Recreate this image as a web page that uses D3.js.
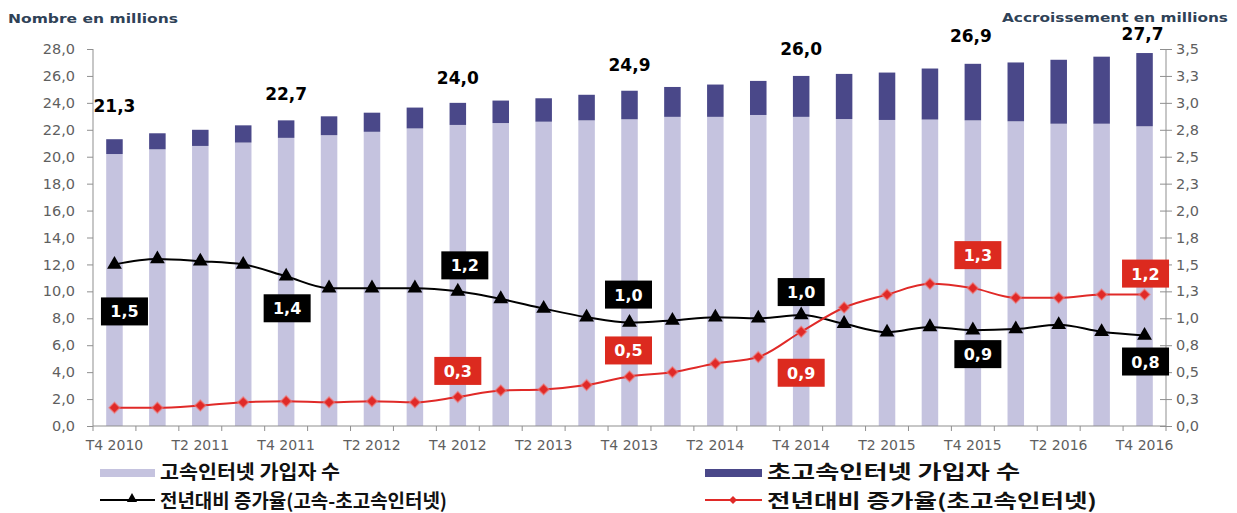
<!DOCTYPE html>
<html>
<head>
<meta charset="utf-8">
<script src="https://cdn.jsdelivr.net/npm/d3@7"></script>
<style>
  body { margin: 0; background: #fff; }
  text { font-family: "DejaVu Sans", Verdana, sans-serif; }
  .kr { font-family: "Noto Sans CJK KR", sans-serif; font-weight: 700; fill: #111; }
</style>
</head>
<body>
<div id="chart"></div>
<script>
// quarters T4 2010 .. T4 2016
const quarters = ["T4 2010","T1 2011","T2 2011","T3 2011","T4 2011","T1 2012","T2 2012","T3 2012",
  "T4 2012","T1 2013","T2 2013","T3 2013","T4 2013","T1 2014","T2 2014","T3 2014","T4 2014",
  "T1 2015","T2 2015","T3 2015","T4 2015","T1 2016","T2 2016","T3 2016","T4 2016"];

// subscribers, millions (left axis)
const highSpeed = [20.2,20.55,20.8,21.05,21.4,21.6,21.85,22.1,22.36,22.5,22.6,22.7,22.78,
  22.96,22.96,23.1,22.96,22.8,22.73,22.76,22.7,22.63,22.45,22.45,22.26];
const ultraHighSpeed = [1.1,1.19,1.2,1.28,1.3,1.4,1.42,1.55,1.64,1.67,1.74,1.9,2.12,
  2.22,2.4,2.53,3.04,3.35,3.52,3.79,4.2,4.37,4.75,4.98,5.44];

// year-on-year growth, millions (right axis)
const growthAll = [1.5,1.55,1.53,1.5,1.39,1.28,1.28,1.28,1.25,1.18,1.09,1.01,0.96,
  0.98,1.01,1.0,1.03,0.95,0.87,0.92,0.89,0.9,0.94,0.875,0.84];
const growthUltra = [0.17,0.17,0.19,0.22,0.23,0.22,0.23,0.22,0.27,0.33,0.34,0.38,0.46,
  0.5,0.58,0.64,0.875,1.1,1.22,1.32,1.28,1.19,1.19,1.22,1.22];

// labelled quarters
const totalLabels = ["T4 2010","T4 2011","T4 2012","T4 2013","T4 2014","T4 2015","T4 2016"];
const totalValues = [21.3,22.7,24.0,24.9,26.0,26.9,27.7];
const blackLabelValues = [1.5,1.4,1.2,1.0,1.0,0.9,0.8];
const blackLabelQuarters = ["T4 2010","T4 2011","T4 2012","T4 2013","T4 2014","T4 2015","T4 2016"];
const redLabelValues = [0.3,0.5,0.9,1.3,1.2];
const redLabelQuarters = ["T4 2012","T4 2013","T4 2014","T4 2015","T4 2016"];

const leftTicks = d3.range(0, 28.1, 2);
const rightTicks = d3.range(0, 3.51, 0.25);
const xTickLabels = quarters.filter((q, i) => i % 2 === 0);

const legendNames = ["고속인터넷 가입자 수", "초고속인터넷 가입자 수",
  "전년대비 증가율(고속-초고속인터넷)", "전년대비 증가율(초고속인터넷)"];

const W = 1237, H = 513;
const colLight = "#c5c3df", colDark = "#4a4889", colRed = "#e02a28", colAxis = "#8f8f8f", colTick = "#5f5f5f";

const svg = d3.select("#chart").append("svg").attr("width", W).attr("height", H);

const x = d3.scaleBand().domain(quarters).range([93, 1166]).paddingInner(0.615).paddingOuter(0.3075);
const yL = d3.scaleLinear().domain([0, 28]).range([426, 49]);
const yR = d3.scaleLinear().domain([0, 3.5]).range([426, 49]);
const fmt = v => (Math.round(v * 10) / 10).toFixed(1).replace(".", ",");

// titles
svg.append("text").attr("x", 8).attr("y", 23).attr("font-size", 13).attr("font-weight", "bold")
  .attr("fill", "#2f4257").attr("textLength", 170).attr("lengthAdjust", "spacingAndGlyphs")
  .text("Nombre en millions");
svg.append("text").attr("x", 1228).attr("y", 22).attr("font-size", 13).attr("font-weight", "bold")
  .attr("text-anchor", "end").attr("fill", "#2f4257").attr("textLength", 226).attr("lengthAdjust", "spacingAndGlyphs")
  .text("Accroissement en millions");

// stacked bars
const bars = svg.append("g");
quarters.forEach((q, i) => {
  bars.append("rect").attr("x", x(q)).attr("width", x.bandwidth())
    .attr("y", yL(highSpeed[i])).attr("height", yL(0) - yL(highSpeed[i])).attr("fill", colLight);
  bars.append("rect").attr("x", x(q)).attr("width", x.bandwidth())
    .attr("y", yL(highSpeed[i] + ultraHighSpeed[i]))
    .attr("height", yL(highSpeed[i]) - yL(highSpeed[i] + ultraHighSpeed[i])).attr("fill", colDark);
});

// axes
const axL = svg.append("g").attr("transform", "translate(93,0)")
  .call(d3.axisLeft(yL).tickValues(leftTicks).tickSize(6).tickPadding(12).tickFormat(fmt));
const axR = svg.append("g").attr("transform", "translate(1166,0)")
  .call(d3.axisRight(yR).tickValues(rightTicks).tickSize(6).tickPadding(4).tickFormat(fmt));
axR.selectAll(".tick line").attr("x1", -6);
[axL, axR].forEach(a => {
  a.select(".domain").attr("stroke", colAxis).attr("d", "M0,49V426");
  a.selectAll(".tick line").attr("stroke", colAxis);
  a.selectAll(".tick text").attr("font-size", 14.5).attr("fill", colTick);
});

const axB = svg.append("g").attr("transform", "translate(0,426)");
axB.append("line").attr("x1", 93).attr("x2", 1166).attr("stroke", colAxis);
const step = x.step();
d3.range(quarters.length + 1).forEach(k => {
  const px = x(quarters[0]) + x.bandwidth() / 2 - step / 2 + k * step;
  axB.append("line").attr("x1", px).attr("x2", px).attr("y1", 0).attr("y2", 5).attr("stroke", colAxis);
});
axB.selectAll("text.xl").data(xTickLabels).join("text").attr("class", "xl")
  .attr("x", d => x(d) + x.bandwidth() / 2).attr("y", 24).attr("text-anchor", "middle")
  .attr("font-size", 14).attr("fill", colTick).text(d => d);

// lines
const cx = q => x(q) + x.bandwidth() / 2;
const lineGen = d3.line().x((d, i) => cx(quarters[i])).y(d => yR(d)).curve(d3.curveMonotoneX);
svg.append("path").datum(growthAll).attr("d", lineGen).attr("fill", "none").attr("stroke", "#000").attr("stroke-width", 2);
svg.append("path").datum(growthUltra).attr("d", lineGen).attr("fill", "none").attr("stroke", colRed).attr("stroke-width", 2);

svg.append("g").selectAll("path").data(growthAll).join("path")
  .attr("transform", (d, i) => `translate(${cx(quarters[i])},${yR(d)})`)
  .attr("d", d3.symbol(d3.symbolTriangle, 95)).attr("fill", "#000");
svg.append("g").selectAll("path").data(growthUltra).join("path")
  .attr("transform", (d, i) => `translate(${cx(quarters[i])},${yR(d)})`)
  .attr("d", d3.symbol(d3.symbolDiamond2, 75)).attr("fill", colRed)
  .attr("stroke", "#f07a78").attr("stroke-width", 1.5).attr("stroke-opacity", 0.6);

// total labels above bars
const totalOff = [[0, -27], [0, -20], [0, -19], [0, -20], [0, -21], [-2, -22], [-2, -13]];
totalLabels.forEach((q, k) => {
  svg.append("text").attr("x", cx(q) + totalOff[k][0]).attr("y", yL(totalValues[k]) + totalOff[k][1])
    .attr("text-anchor", "middle").attr("font-size", 17).attr("font-weight", "bold").attr("fill", "#000")
    .text(fmt(totalValues[k]));
});

// boxed growth labels
function boxLabel(xc, yc, txt, fill) {
  const g = svg.append("g").attr("transform", `translate(${xc},${yc})`);
  g.append("rect").attr("x", -23.5).attr("y", -14).attr("width", 47).attr("height", 28).attr("fill", fill);
  g.append("text").attr("y", 6).attr("text-anchor", "middle").attr("font-size", 16)
    .attr("font-weight", "bold").attr("fill", "#fff").text(txt);
}
const blackOff = [[10, 47], [1, 32], [7, -26], [-1, -28], [0, -23], [5, 24], [1, 26]];
blackLabelQuarters.forEach((q, k) => {
  const i = quarters.indexOf(q);
  boxLabel(cx(q) + blackOff[k][0], yR(growthAll[i]) + blackOff[k][1], fmt(blackLabelValues[k]), "#000");
});
const redOff = [[0, -26], [-1, -26], [0, 41], [5, -33], [1, -21]];
redLabelQuarters.forEach((q, k) => {
  const i = quarters.indexOf(q);
  boxLabel(cx(q) + redOff[k][0], yR(growthUltra[i]) + redOff[k][1], fmt(redLabelValues[k]), "#dc2a1f");
});

// legend
const lg = svg.append("g");
lg.append("rect").attr("x", 100).attr("y", 469).attr("width", 55).attr("height", 8).attr("fill", colLight);
lg.append("rect").attr("x", 705).attr("y", 469).attr("width", 57).attr("height", 8).attr("fill", colDark);
lg.append("line").attr("x1", 100).attr("x2", 155).attr("y1", 500).attr("y2", 500).attr("stroke", "#000").attr("stroke-width", 2);
lg.append("path").attr("transform", "translate(132,499)").attr("d", d3.symbol(d3.symbolTriangle, 45)).attr("fill", "#000");
lg.append("line").attr("x1", 705).attr("x2", 762).attr("y1", 500).attr("y2", 500).attr("stroke", colRed).attr("stroke-width", 2);
lg.append("path").attr("transform", "translate(733,500)").attr("d", d3.symbol(d3.symbolDiamond2, 40)).attr("fill", colRed);
const legendSpans = [[160, 479, 180], [767, 479, 253], [160, 508, 287], [767, 508, 330]];
legendNames.forEach((name, k) => {
  lg.append("text").attr("class", "kr").attr("x", legendSpans[k][0]).attr("y", legendSpans[k][1])
    .attr("font-size", 19).attr("textLength", legendSpans[k][2]).attr("lengthAdjust", "spacingAndGlyphs")
    .text(name);
});
</script>
</body>
</html>
